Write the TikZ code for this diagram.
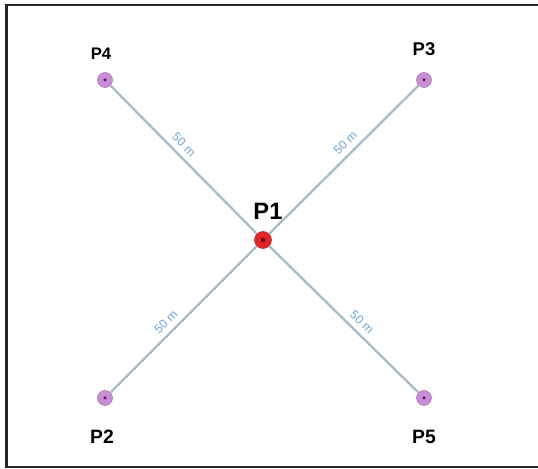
\documentclass[tikz,border=0pt]{standalone}
\usepackage{fontspec}
\setmainfont{Liberation Sans}
\usetikzlibrary{positioning}
\definecolor{ptpurple}{HTML}{C98FD6}
\definecolor{ptcore}{HTML}{6A1470}
\definecolor{ptred}{HTML}{E0262A}
\definecolor{ptdarkred}{HTML}{7A0A0A}
\definecolor{legline}{HTML}{A9BCC6}
\definecolor{distblue}{HTML}{6FA6D8}

\tikzset{
  station/.style={circle, fill=ptpurple, draw=ptpurple!80!black, line width=0.3pt, minimum size=0.3cm, inner sep=0pt},
  centre/.style={circle, fill=ptred, draw=ptred!80!black, line width=0.3pt, minimum size=0.34cm, inner sep=0pt},
  ptname/.style={font=\bfseries, inner sep=1pt},
  leg/.style={legline, line width=1.3pt},
  dist/.style={font=\fontsize{7}{8}\selectfont, text=distblue, sloped, above, inner sep=3pt}
}

\begin{document}
\begin{tikzpicture}[node distance=0.22cm]
	\useasboundingbox (0,0) rectangle (10.76,9.38);
	\draw[line width=1.2pt, black!85] (0.13,0.04) rectangle (11.2,9.28);

	\node[centre] (p1) at (5.26,4.58) {};
	\node[station] (p4) at (2.10,7.78) {};
	\node[station] (p3) at (8.48,7.78) {};
	\node[station] (p2) at (2.10,1.42) {};
	\node[station] (p5) at (8.48,1.42) {};

	% legs from the centre point
	\draw[leg] (p4) -- node[dist, pos=0.45] {50 m} (p1);
	\draw[leg] (p1) -- node[dist, pos=0.56] {50 m} (p3);
	\draw[leg] (p2) -- node[dist, pos=0.43] {50 m} (p1);
	\draw[leg] (p1) -- node[dist, pos=0.57] {50 m} (p5);

	% small cores in the markers
	\fill[ptdarkred] (p1) circle (0.05);
	\foreach \p in {p2,p3,p4,p5}
		\fill[ptcore] (\p) circle (0.035);

	\node[ptname, font=\fontsize{13.5}{15}\selectfont\bfseries, above=0.2cm of p1, xshift=0.1cm] (lp1) {P1};
	\node[ptname, font=\fontsize{9.5}{11}\selectfont\bfseries, above=of p4, xshift=-0.08cm] (lp4) {P4};
	\node[ptname, font=\fontsize{10.5}{12}\selectfont\bfseries, above=of p3, yshift=0.06cm] (lp3) {P3};
	\node[ptname, font=\fontsize{11}{12}\selectfont\bfseries, below=0.44cm of p2, xshift=-0.06cm] (lp2) {P2};
	\node[ptname, font=\fontsize{11}{12}\selectfont\bfseries, below=0.44cm of p5] (lp5) {P5};
\end{tikzpicture}
\end{document}
